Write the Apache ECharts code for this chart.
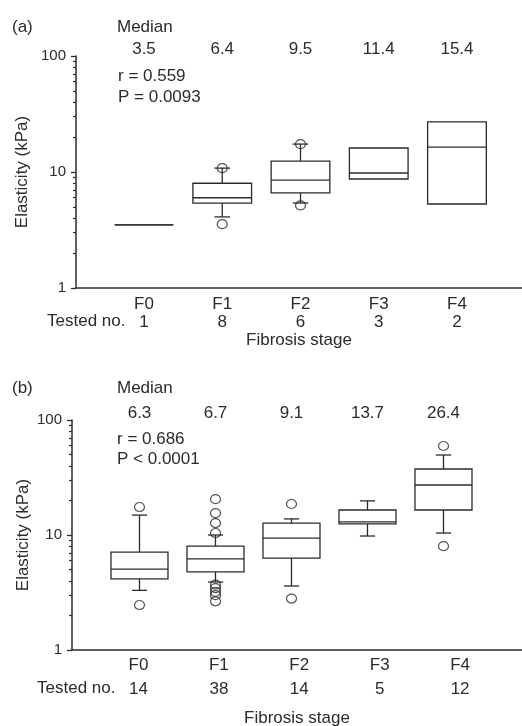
<!DOCTYPE html>
<html>
<head>
<meta charset="utf-8">
<script src="https://cdn.jsdelivr.net/npm/echarts@6/dist/echarts.min.js"></script>
<style>
  html, body { margin: 0; padding: 0; background: #fff; }
  #chart { width: 522px; height: 726px; }
</style>
</head>
<body>
<div id="chart"></div>
<script>
const stages = ['F0', 'F1', 'F2', 'F3', 'F4']
const stageIdx = [0, 1, 2, 3, 4]
const yTicks = [1, 10, 100]
const yMinorTicks = [2, 3, 4, 5, 6, 7, 8, 9, 20, 30, 40, 50, 60, 70, 80, 90]

// panel (a)
const testedA = [1, 8, 6, 3, 2]
const mediansA = ['3.5', '6.4', '9.5', '11.4', '15.4']
// min, Q1, median, Q3, max for each stage
const boxesA = [
  [3.5, 3.5, 3.5, 3.5, 3.5],
  [4.1, 5.4, 6.0, 8.0, 10.8],
  [5.4, 6.6, 8.5, 12.4, 17.4],
  [8.7, 8.7, 9.8, 16.1, 16.1],
  [5.3, 5.3, 16.4, 27.0, 27.0]
]
const outliersA = [[1, 10.8], [1, 3.55], [2, 17.4], [2, 5.15]]

// panel (b)
const testedB = [14, 38, 14, 5, 12]
const mediansB = ['6.3', '6.7', '9.1', '13.7', '26.4']
const boxesB = [
  [3.3, 4.15, 5.05, 7.1, 14.9],
  [3.9, 4.77, 6.2, 8.0, 10.0],
  [3.6, 6.3, 9.4, 12.7, 13.8],
  [9.8, 12.5, 13.0, 16.5, 19.8],
  [10.4, 16.5, 27.2, 37.5, 49.6]
]
const outliersB = [
  [0, 17.5], [0, 2.46],
  [1, 20.5], [1, 15.5], [1, 12.7], [1, 10.4],
  [1, 3.7], [1, 3.45], [1, 3.2], [1, 3.0], [1, 2.65],
  [2, 18.6], [2, 2.8],
  [4, 59.4], [4, 8.0]
]

const FONT = "'Liberation Sans', Arial, sans-serif"
const INK = '#2b2b2b'
const FS = 17
const BOX_W = 0.75
const CAP_W = 0.2

const line = (x1, y1, x2, y2) => ({
  type: 'line',
  shape: { x1, y1, x2, y2 },
  style: { stroke: INK, lineWidth: 1.3 }
})

function renderBox(params, api) {
  const x = api.value(0)
  const lo = api.value(1), q1 = api.value(2), med = api.value(3), q3 = api.value(4), hi = api.value(5)
  const tl = api.coord([x - BOX_W / 2, q3])
  const br = api.coord([x + BOX_W / 2, q1])
  const cx = api.coord([x, med])[0]
  const capL = api.coord([x - CAP_W / 2, med])[0]
  const capR = api.coord([x + CAP_W / 2, med])[0]
  const yMed = api.coord([x, med])[1]
  const yHi = api.coord([x, hi])[1]
  const yLo = api.coord([x, lo])[1]
  const children = [
    {
      type: 'rect',
      shape: { x: tl[0], y: tl[1], width: br[0] - tl[0], height: br[1] - tl[1] },
      style: { stroke: INK, fill: 'none', lineWidth: 1.3 }
    },
    line(tl[0], yMed, br[0], yMed)
  ]
  if (hi > q3) children.push(line(cx, tl[1], cx, yHi), line(capL, yHi, capR, yHi))
  if (lo < q1) children.push(line(cx, br[1], cx, yLo), line(capL, yLo, capR, yLo))
  return { type: 'group', children }
}

const chart = echarts.init(document.getElementById('chart'))

function panelAxes(gridIndex, boxMin, boxMax, labMin, labMax, tested, medians, lineH, labMargin, nameGap, yNameGap) {
  const x = [
    {
      gridIndex, type: 'value', position: 'bottom', min: boxMin, max: boxMax,
      axisLine: { show: true, onZero: false, lineStyle: { color: INK, width: 1.5 } },
      axisTick: { show: false }, axisLabel: { show: false }, splitLine: { show: false },
      name: 'Fibrosis stage', nameLocation: 'middle', nameGap, nameMoveOverlap: false,
      nameTextStyle: { color: INK, fontSize: FS, fontFamily: FONT }
    },
    {
      gridIndex, type: 'value', position: 'top', min: boxMin, max: boxMax,
      axisLine: { show: false, onZero: false }, axisTick: { show: false }, splitLine: { show: false },
      axisLabel: {
        customValues: stageIdx, margin: -2,
        formatter: v => medians[Math.round(v)],
        color: INK, fontSize: FS, fontFamily: FONT
      }
    },
    {
      gridIndex, type: 'value', position: 'bottom', min: labMin, max: labMax,
      axisLine: { show: false, onZero: false }, axisTick: { show: false }, splitLine: { show: false },
      axisLabel: {
        customValues: stageIdx, margin: labMargin, lineHeight: lineH,
        formatter: v => stages[Math.round(v)] + '\n' + tested[Math.round(v)],
        color: INK, fontSize: FS, fontFamily: FONT
      }
    }
  ]
  const y = [
    {
      gridIndex, type: 'log', logBase: 10, min: 1, max: 100, position: 'left',
      axisLine: { show: true, onZero: false, lineStyle: { color: INK, width: 1.5 } },
      axisTick: { show: true, customValues: yTicks, length: 5, lineStyle: { color: INK, width: 1.3 } },
      axisLabel: { customValues: yTicks, margin: 10, color: INK, fontSize: 15, fontFamily: FONT },
      splitLine: { show: false },
      name: 'Elasticity (kPa)', nameLocation: 'middle', nameGap: yNameGap, nameMoveOverlap: false,
      nameTextStyle: { color: INK, fontSize: FS, fontFamily: FONT }
    },
    {
      gridIndex, type: 'log', logBase: 10, min: 1, max: 100, position: 'left',
      axisLine: { show: false, onZero: false },
      axisTick: { show: true, customValues: yMinorTicks, length: 3, lineStyle: { color: INK, width: 1.2 } },
      axisLabel: { show: false }, splitLine: { show: false }
    }
  ]
  return { x, y }
}

const axA = panelAxes(0, -0.869, 4.831, -0.869, 4.831, testedA, mediansA, 18, 7, 44, 45)
const axB = panelAxes(1, -0.888, 5.033, -0.827, 4.770, testedB, mediansB, 24, 3, 60, 40)

function boxSeries(xAxisIndex, yAxisIndex, boxes) {
  return {
    type: 'custom', xAxisIndex, yAxisIndex,
    renderItem: renderBox,
    encode: { x: 0, y: [1, 2, 3, 4, 5] },
    data: boxes.map((b, i) => [stageIdx[i]].concat(b)),
    silent: true, z: 2
  }
}

function outlierSeries(xAxisIndex, yAxisIndex, pts) {
  return {
    type: 'scatter', xAxisIndex, yAxisIndex,
    symbol: 'circle', symbolSize: [10, 9],
    itemStyle: { color: 'rgba(0,0,0,0)', borderColor: INK, borderWidth: 1.2 },
    data: pts, silent: true, z: 3
  }
}

const txt = (left, top, text, extra) => ({
  type: 'text', left, top,
  style: Object.assign({ text, fill: INK, fontSize: FS, fontFamily: FONT }, extra || {})
})

chart.setOption({
  backgroundColor: '#fff',
  animation: false,
  grid: [
    { left: 76, right: 0, top: 56, height: 232, outerBoundsMode: 'none' },
    { left: 72, right: 0, top: 420, height: 230, outerBoundsMode: 'none' }
  ],
  xAxis: axA.x.concat(axB.x),
  yAxis: axA.y.concat(axB.y),
  series: [
    boxSeries(0, 0, boxesA),
    outlierSeries(0, 0, outliersA),
    boxSeries(3, 2, boxesB),
    outlierSeries(3, 2, outliersB)
  ],
  graphic: [
    txt(12, 19, '(a)'),
    txt(117, 19, 'Median'),
    txt(118, 68, 'r = 0.559'),
    txt(118, 89, 'P = 0.0093'),
    txt(47, 313, 'Tested no.'),
    txt(12, 380, '(b)'),
    txt(117, 380, 'Median'),
    txt(117, 431, 'r = 0.686'),
    txt(117, 451, 'P < 0.0001'),
    txt(37, 680, 'Tested no.')
  ]
})
</script>
</body>
</html>
